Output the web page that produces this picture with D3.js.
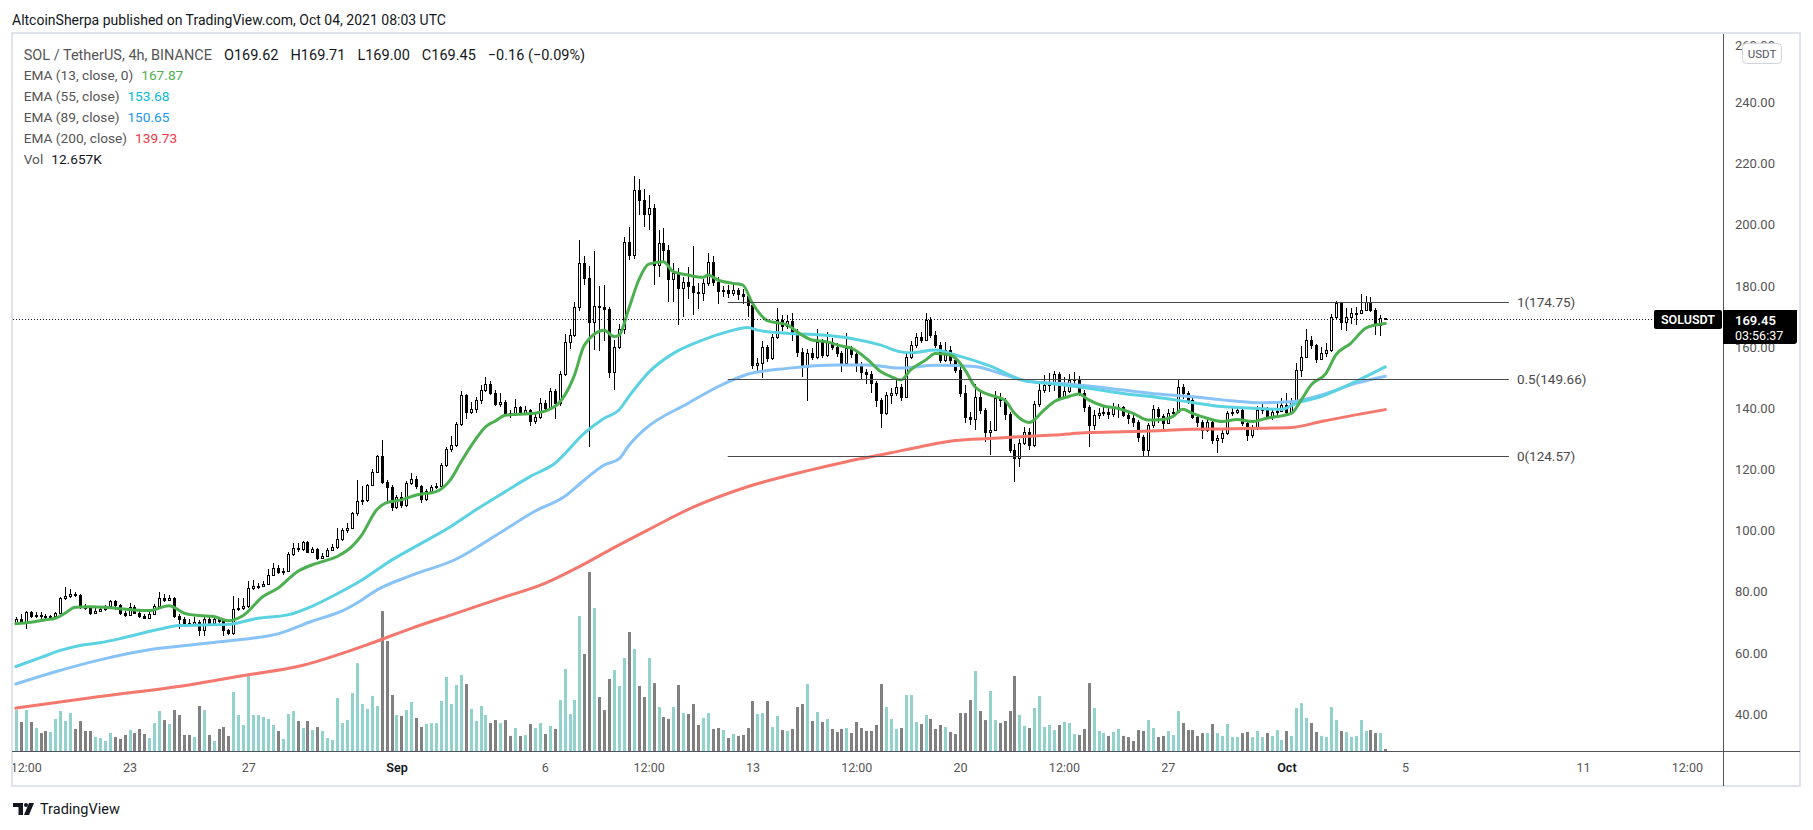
<!DOCTYPE html>
<html><head><meta charset="utf-8">
<script src="https://cdn.jsdelivr.net/npm/d3@7"></script>
<style>
body{margin:0;background:#fff;overflow:hidden;}
svg text{font-family:Roboto,"Noto Sans",sans-serif;}
</style></head><body>
<svg id="chart" width="1813" height="830"></svg>
<script>
// ---------- DATA (SOL/USDT 4h, Binance, from Aug 19 2021 04:00 UTC) ----------
const firstBar = "2021-08-19T04:00:00Z";
const opens = [69.7,71.2,70.0,73.4,72.1,72.6,72.3,71.9,72.3,73.2,
78.0,78.7,79.5,79.0,75.6,74.7,73.2,74.0,74.6,75.4,
77.0,75.8,73.2,72.6,75.2,73.3,72.2,71.7,73.0,75.6,
78.2,77.6,78.1,72.3,71.3,70.1,69.6,70.4,67.5,71.4,
70.1,71.3,70.5,67.5,66.6,74.5,74.9,75.4,81.3,81.9,
82.2,82.6,85.7,87.9,86.5,87.1,92.5,94.6,94.0,96.3,
93.3,94.0,91.2,92.0,93.9,94.8,97.3,100.2,101.0,105.8,
109.7,110.2,115.1,119.4,124.6,116.2,114.3,108.0,111.0,108.5,
115.8,116.9,114.7,110.4,113.2,114.3,114.7,121.6,126.7,128.2,
135.0,144.5,139.1,139.9,142.8,146.1,148.1,145.3,141.6,142.3,
138.5,138.2,140.5,138.7,139.5,136.0,137.4,141.8,140.3,145.9,
141.8,151.4,161.9,164.1,173.4,187.5,182.6,168.5,173.6,173.2,
172.5,152.1,160.3,166.0,194.6,190.3,211.5,208.3,203.6,205.5,
187.0,194.1,192.0,182.3,184.3,179.4,181.5,180.0,178.3,177.8,
181.0,188.1,181.5,178.6,178.9,177.8,178.8,177.4,177.0,173.9,
154.3,155.0,160.1,156.5,163.5,169.0,167.2,168.8,165.0,158.6,
153.8,158.3,157.0,161.9,157.6,161.9,160.3,158.3,155.1,159.7,
157.9,154.3,152.1,151.3,148.3,142.8,138.5,144.5,145.0,147.2,
144.0,157.0,160.8,163.3,162.5,169.0,164.1,160.9,155.9,159.2,
156.0,152.7,145.0,137.4,136.8,143.9,139.5,132.5,133.0,143.4,
142.9,138.2,126.5,123.8,128.9,132.5,128.1,141.6,146.1,147.8,
148.3,151.4,144.0,145.9,149.4,149.8,145.0,140.7,134.7,138.0,
138.5,139.0,138.2,140.1,140.6,138.0,136.9,135.8,130.9,126.5,
134.7,139.8,137.5,135.5,138.7,139.0,147.2,145.0,142.9,137.4,
135.8,133.1,135.8,129.8,130.3,132.0,138.5,139.1,139.6,135.3,
131.4,133.6,139.6,139.9,137.4,139.0,139.3,141.2,139.0,142.3,
152.7,157.0,162.5,160.8,156.2,158.1,159.2,170.1,174.5,168.5,
170.1,171.2,171.4,172.3,175.0,172.3,167.4,169.62];
const highs = [72.0,72.9,73.8,74.0,73.5,73.6,72.8,72.7,73.6,78.6,
81.6,81.0,80.2,79.4,76.3,75.1,74.8,75.3,75.9,77.6,
77.4,76.1,74.0,76.4,75.9,73.9,72.8,73.6,76.2,80.0,
79.3,79.0,78.5,72.8,72.0,71.2,71.8,70.9,72.2,72.4,
72.0,71.8,70.9,67.9,78.8,78.0,78.0,83.6,84.0,83.1,
83.6,87.5,89.5,89.0,87.8,93.3,96.2,96.0,96.6,96.6,
94.8,94.5,92.9,94.6,95.9,101.0,101.0,102.5,106.3,116.6,
114.7,115.5,120.2,125.0,129.8,116.6,115.0,111.8,112.7,116.3,
119.0,118.0,115.2,113.7,115.2,115.6,122.3,127.5,131.0,135.6,
145.9,144.9,142.3,143.8,147.9,150.3,149.2,146.0,145.2,142.8,
139.5,143.2,141.0,140.8,139.9,138.9,143.6,142.9,146.8,146.6,
152.3,164.4,166.0,174.8,195.2,190.0,186.8,191.6,180.0,180.5,
173.4,162.5,167.6,196.0,199.5,216.2,215.0,212.0,210.0,207.0,
198.6,199.0,193.5,187.6,186.0,183.0,186.5,193.2,181.2,182.3,
191.0,190.0,183.2,180.1,180.5,180.9,179.6,179.0,178.2,174.8,
156.6,162.2,161.0,164.3,173.0,170.5,170.8,171.2,166.0,159.8,
159.5,160.0,166.2,162.8,165.0,163.0,161.5,159.0,164.7,160.6,
158.9,155.2,153.0,152.4,149.0,143.6,145.6,146.8,149.4,148.0,
157.8,162.0,164.8,165.2,171.2,170.0,165.5,161.8,161.9,160.4,
156.8,153.5,147.8,138.9,148.2,145.5,140.2,136.0,145.8,145.0,
143.6,139.0,128.6,130.0,134.0,133.8,142.6,148.8,151.0,151.6,
152.3,152.0,150.5,151.5,152.0,150.8,146.0,141.2,139.5,140.1,
141.2,140.5,142.0,141.6,141.0,139.2,137.8,136.2,131.5,135.5,
141.3,140.5,138.2,140.0,140.2,149.6,148.2,145.8,143.5,138.0,
136.3,137.0,136.4,131.5,133.6,139.3,140.6,140.8,140.0,136.0,
134.8,140.8,141.6,140.5,140.2,142.0,143.6,145.0,143.6,155.0,
160.6,166.0,163.8,161.2,160.2,161.6,171.0,175.2,175.0,173.0,
172.8,173.2,177.5,177.0,176.4,172.8,170.6,169.71];
const lows = [69.3,69.5,68.0,71.6,71.5,70.9,71.3,71.2,71.9,72.8,
77.5,78.2,78.3,74.6,74.1,72.6,72.8,73.4,73.9,75.0,
74.3,72.6,72.0,72.3,72.8,71.6,71.2,71.3,72.7,75.3,
76.9,77.0,71.6,68.0,69.4,69.0,69.2,65.6,65.8,69.6,
69.7,69.9,65.8,65.9,66.0,73.8,74.3,75.0,80.6,81.2,
81.7,82.3,85.3,85.9,85.5,86.9,92.0,93.2,93.6,92.7,
92.8,90.4,90.8,91.6,93.5,94.3,96.8,99.5,100.6,104.8,
108.6,109.6,114.6,118.9,115.4,108.9,106.5,107.1,107.6,108.0,
115.0,113.9,109.3,109.8,112.5,113.8,114.2,121.1,126.0,127.4,
134.4,136.7,138.2,138.6,141.7,145.5,144.4,140.9,140.5,137.8,
137.0,137.6,137.9,137.8,134.5,135.1,136.8,139.4,139.7,136.6,
141.0,150.7,159.5,163.3,171.8,180.3,127.6,159.2,159.0,162.0,
150.0,146.0,159.6,164.6,188.5,188.8,203.5,199.5,198.5,180.5,
183.0,188.2,175.0,175.0,167.5,170.0,175.8,170.6,172.5,175.3,
180.2,180.0,174.4,176.6,176.3,176.8,175.7,174.2,170.0,153.0,
151.6,150.0,155.2,156.0,162.8,165.5,166.0,162.0,157.0,150.5,
142.4,155.8,156.3,156.5,156.8,159.1,157.0,152.0,154.5,156.5,
152.0,149.6,148.0,145.0,140.5,133.6,137.8,141.5,144.2,142.5,
143.5,156.4,160.0,161.4,162.0,163.2,159.8,155.0,155.2,154.5,
151.8,144.0,135.2,134.6,133.0,138.4,129.0,124.8,132.6,140.6,
136.3,125.4,116.0,121.0,128.0,126.6,127.5,140.5,145.0,145.5,
145.8,143.2,143.8,145.3,147.5,144.2,139.0,127.5,133.2,136.6,
137.6,136.8,137.4,136.9,137.2,135.0,134.0,129.0,124.5,124.2,
133.8,135.2,133.0,135.0,137.4,138.5,143.2,141.6,136.5,134.0,
130.2,132.4,128.6,125.5,128.7,131.4,137.6,138.2,134.5,129.4,
130.4,133.1,138.4,136.8,136.4,138.1,138.8,138.0,138.6,141.7,
150.3,156.6,159.5,155.0,155.8,157.0,158.4,169.0,165.6,165.5,
167.6,167.4,171.0,171.8,171.5,164.0,163.8,169.00];
const closes = [71.2,70.0,73.4,72.1,72.6,72.3,71.9,72.3,73.2,78.0,
78.7,79.5,79.0,75.6,74.7,73.2,74.0,74.6,75.4,77.0,
75.8,73.2,72.6,75.2,73.3,72.2,71.7,73.0,75.6,78.2,
77.6,78.1,72.3,71.3,70.1,69.6,70.4,67.5,71.4,70.1,
71.3,70.5,67.5,66.6,74.5,74.9,75.4,81.3,81.9,82.2,
82.6,85.7,87.9,86.5,87.1,92.5,94.6,94.0,96.3,93.3,
94.0,91.2,92.0,93.9,94.8,97.3,100.2,101.0,105.8,109.7,
110.2,115.1,119.4,124.6,116.2,114.3,108.0,111.0,108.5,115.8,
116.9,114.7,110.4,113.2,114.3,114.7,121.6,126.7,128.2,135.0,
144.5,139.1,139.9,142.8,146.1,148.1,145.3,141.6,142.3,138.5,
138.2,140.5,138.7,139.5,136.0,137.4,141.8,140.3,145.9,141.8,
151.4,161.9,164.1,173.4,187.5,182.6,168.5,173.6,173.2,172.5,
152.1,160.3,166.0,194.6,190.3,211.5,208.3,203.6,205.5,187.0,
194.1,192.0,182.3,184.3,179.4,181.5,180.0,178.3,177.8,181.0,
188.1,181.5,178.6,178.9,177.8,178.8,177.4,177.0,173.9,154.3,
155.0,160.1,156.5,163.5,169.0,167.2,168.8,165.0,158.6,153.8,
158.3,157.0,161.9,157.6,161.9,160.3,158.3,155.1,159.7,157.9,
154.3,152.1,151.3,148.3,142.8,138.5,144.5,145.0,147.2,144.0,
157.0,160.8,163.3,162.5,169.0,164.1,160.9,155.9,159.2,156.0,
152.7,145.0,137.4,136.8,143.9,139.5,132.5,133.0,143.4,142.9,
138.2,126.5,123.8,128.9,132.5,128.1,141.6,146.1,147.8,148.3,
151.4,144.0,145.9,149.4,149.8,145.0,140.7,134.7,138.0,138.5,
139.0,138.2,140.1,140.6,138.0,136.9,135.8,130.9,126.5,134.7,
139.8,137.5,135.5,138.7,139.0,147.2,145.0,142.9,137.4,135.8,
133.1,135.8,129.8,130.3,132.0,138.5,139.1,139.6,135.3,131.4,
133.6,139.6,139.9,137.4,139.0,139.3,141.2,139.0,142.3,152.7,
157.0,162.5,160.8,156.2,158.1,159.2,170.1,174.5,168.5,170.1,
171.2,171.4,172.3,175.0,172.3,167.4,169.62,169.45];
const volumesK = [258,183,258,183,145,113,126,120,202,252,
189,239,139,189,126,126,88,82,63,113,
88,76,101,132,113,139,107,82,176,252,
195,170,258,227,101,101,88,284,258,101,
63,139,151,95,372,227,164,485,227,227,
214,202,164,126,76,233,252,189,145,189,
132,151,126,82,69,334,176,195,365,554,
296,265,347,284,882,693,353,227,221,258,
309,208,151,170,176,176,315,466,296,416,
479,422,265,189,284,227,176,195,176,195,
95,145,95,101,170,145,176,107,158,139,
321,517,233,321,851,611,1128,901,340,258,
454,510,410,586,750,643,410,340,586,428,
277,214,202,277,416,239,233,296,164,208,
239,139,145,132,82,107,95,101,145,315,
233,239,315,151,221,132,126,139,277,296,
422,189,246,183,202,139,120,139,145,113,
183,145,126,126,164,422,277,202,139,145,
353,353,183,170,227,202,139,164,151,120,
107,239,239,321,504,252,195,378,195,176,
189,252,473,227,158,145,271,347,151,164,
132,164,183,176,107,101,139,428,271,126,
113,95,120,139,95,88,63,132,126,195,
145,88,95,126,101,252,176,132,132,95,
113,113,170,113,95,170,88,88,113,120,
88,126,88,113,95,132,69,126,95,271,
302,208,176,120,95,88,277,195,126,120,
88,95,195,126,132,113,113,12.657];

// EMA readings: [bar number, value]
const ema13 = [[0,69.7],[3,70.2],[6,71.0],[8,71.5],[10,73.2],[12,75.1],[15,75.3],[18,75.1],[22,74.5],[24,74.2],[27,74.0],[31,75.6],[34,73.2],[37,72.4],[40,72.1],[42,71.0],[43,70.7],[46,72.4],[50,78.6],[53,81.3],[57,86.8],[60,89.0],[62,90.0],[65,91.7],[68,95.0],[70,98.8],[73,107.0],[75,109.3],[78,110.2],[81,111.8],[85,112.9],[88,117.0],[90,122.5],[93,130.0],[95,134.1],[97,136.0],[99,137.9],[105,138.5],[109,140.7],[113,151.0],[115,160.8],[119,165.7],[121,163.6],[122,164.0],[124,172.8],[126,182.1],[128,187.3],[131,188.1],[133,184.8],[136,183.7],[139,183.0],[140,183.7],[142,182.1],[145,181.0],[147,180.5],[149,174.5],[152,168.8],[156,167.4],[159,164.1],[161,162.5],[164,161.9],[167,160.5],[169,159.8],[172,156.5],[175,152.1],[177,150.5],[179,149.4],[181,152.7],[184,155.9],[186,158.1],[189,157.6],[192,152.7],[194,147.2],[197,144.5],[200,142.9],[202,138.5],[205,135.5],[208,139.6],[210,142.3],[213,144.0],[215,144.8],[217,142.9],[220,140.9],[223,140.1],[226,138.5],[229,136.3],[232,136.5],[234,137.4],[236,139.8],[238,138.5],[241,136.9],[244,135.8],[247,136.5],[250,135.8],[253,136.9],[258,138.5],[260,142.9],[262,147.8],[265,151.6],[267,157.6],[270,161.4],[273,166.3],[275,167.4],[277,167.87]];
const ema55 = [[0,55.7],[5,58.6],[9,61.0],[13,62.6],[17,63.5],[22,65.2],[29,67.9],[33,69.1],[38,69.3],[43,69.5],[49,71.5],[55,72.6],[60,75.5],[65,79.5],[70,84.0],[76,90.5],[82,96.0],[88,101.5],[93,106.9],[99,112.9],[104,117.8],[109,122.1],[115,132.0],[119,136.9],[122,139.6],[124,144.0],[128,151.9],[133,158.1],[139,162.5],[144,165.2],[148,166.6],[150,165.7],[156,164.7],[163,164.1],[169,163.0],[175,160.8],[179,158.6],[181,158.3],[186,159.2],[190,157.6],[197,154.0],[204,149.2],[210,148.1],[217,146.7],[224,145.0],[231,143.7],[237,142.3],[244,140.7],[251,140.1],[256,139.8],[259,141.8],[264,144.0],[271,148.9],[277,153.68]];
const ema89 = [[0,50.0],[8,54.0],[17,57.9],[27,61.2],[31,62.0],[39,63.4],[46,64.6],[53,66.4],[60,70.6],[66,73.9],[70,77.5],[73,80.7],[80,85.5],[89,90.8],[97,98.5],[105,106.5],[111,111.3],[115,116.7],[119,121.6],[122,123.6],[124,128.0],[127,133.0],[136,141.8],[142,147.2],[148,151.3],[156,153.2],[166,154.3],[172,154.3],[179,153.3],[186,154.2],[194,153.8],[199,151.6],[205,148.9],[211,148.3],[217,147.4],[224,146.1],[231,144.8],[238,143.9],[244,142.9],[251,142.0],[258,142.3],[264,144.5],[271,148.3],[277,150.65]];
const ema200 = [[0,42.1],[17,45.9],[35,49.7],[47,53.0],[57,55.7],[71,62.8],[80,68.2],[89,73.1],[98,78.0],[107,82.9],[114,88.4],[121,94.6],[128,100.5],[137,107.8],[148,114.5],[160,119.7],[168,122.7],[177,125.6],[183,127.6],[190,129.6],[197,130.3],[204,130.9],[210,131.4],[217,132.2],[224,132.5],[231,132.8],[238,133.3],[244,133.4],[251,133.6],[258,133.9],[264,135.8],[271,138.0],[277,139.73]];

const priceTicks = [260,240,220,200,180,160,140,120,100,80,60,40];
const timeTickDates = ["2021-08-19T12:00Z","2021-08-23T00:00Z","2021-08-27T00:00Z","2021-09-01T00:00Z","2021-09-06T00:00Z","2021-09-09T12:00Z","2021-09-13T00:00Z","2021-09-16T12:00Z","2021-09-20T00:00Z","2021-09-23T12:00Z","2021-09-27T00:00Z","2021-10-01T00:00Z","2021-10-05T00:00Z","2021-10-11T00:00Z","2021-10-14T12:00Z"];
const timeTickLabels = ["12:00","23","27","Sep","6","12:00","13","12:00","20","12:00","27","Oct","5","11","12:00"];
const monthLabels = ["Sep","Oct"];

const fibLabels = ["1(174.75)","0.5(149.66)","0(124.57)"];
const fibPrices = [174.75,149.66,124.57];
const fibFrom = "2021-09-12T04:00Z", fibTo = "2021-10-08T12:00Z";

const lastPrice = 169.45, countdown = "03:56:37", symbol = "SOLUSDT";
const header = "AltcoinSherpa published on TradingView.com, Oct 04, 2021 08:03 UTC";
const legendTitle = "SOL / TetherUS, 4h, BINANCE";
const legendOHLC = ["O169.62","H169.71","L169.00","C169.45","\u22120.16 (\u22120.09%)"];
const emaLabels = ["EMA (13, close, 0)","EMA (55, close)","EMA (89, close)","EMA (200, close)"];
const emaValues = ["167.87","153.68","150.65","139.73"];
const volLabel = "Vol", volValue = "12.657K";

// ---------- RENDER ----------
const svg = d3.select("#chart");
const P = {left:12, right:1723, top:34, bottom:751, outerRight:1800, outerBottom:786};
const barMs = 4*3600*1000;
const t0 = new Date(firstBar).getTime();
const n = closes.length;
const dateOf = i => new Date(t0 + i*barMs);

const x = d3.scaleTime().domain([dateOf(0), dateOf(n-1)]).range([15.8, 1385.3]);
const y = d3.scaleLinear().domain([40,240]).range([714.6,102.9]);
const yv = d3.scaleLinear().domain([0, d3.max(volumesK)]).range([P.bottom, P.bottom-179]);

const bars = d3.range(n).map(i => ({d:dateOf(i), o:opens[i], h:highs[i], l:lows[i], c:closes[i], v:volumesK[i]}));

svg.append("rect").attr("width",1813).attr("height",830).attr("fill","#fff");
svg.append("rect").attr("x",P.left).attr("y",P.top-1).attr("width",P.outerRight-P.left).attr("height",P.outerBottom-P.top+1)
  .attr("fill","#fff").attr("stroke","#e0e3eb").attr("stroke-width",2);

const defs = svg.append("defs");
defs.append("clipPath").attr("id","plotclip").append("rect")
  .attr("x",P.left+1).attr("y",P.top).attr("width",P.right-P.left-1).attr("height",P.bottom-P.top);
defs.append("clipPath").attr("id","timeclip").append("rect")
  .attr("x",P.left+1).attr("y",P.bottom).attr("width",P.right-P.left-1).attr("height",P.outerBottom-P.bottom);

const plot = svg.append("g").attr("clip-path","url(#plotclip)");

// volume
plot.append("g").selectAll("rect").data(bars).join("rect")
  .attr("x", b => Math.round(x(b.d)) - 1)
  .attr("y", b => yv(b.v))
  .attr("width", 3)
  .attr("height", b => P.bottom - yv(b.v))
  .attr("fill", b => b.c >= b.o ? "#92d2cc" : "#808080");

// candles
const cg = plot.append("g");
cg.selectAll("line").data(bars).join("line")
  .attr("x1", b => Math.round(x(b.d)) + 0.5).attr("x2", b => Math.round(x(b.d)) + 0.5)
  .attr("y1", b => Math.round(y(b.h))).attr("y2", b => Math.round(y(b.l)))
  .attr("stroke","#000").attr("stroke-width",1);
cg.selectAll("rect").data(bars).join("rect")
  .each(function(b){
    const rc = Math.round(x(b.d));
    const top = Math.round(y(Math.max(b.o,b.c)));
    const bot = Math.round(y(Math.min(b.o,b.c)));
    const sel = d3.select(this);
    if (b.c >= b.o) {
      sel.attr("x", rc-0.5).attr("y", top+0.5).attr("width",2).attr("height", Math.max(1, bot-top))
        .attr("fill","#fff").attr("stroke","#000").attr("stroke-width",1);
    } else {
      sel.attr("x", rc-1).attr("y", top).attr("width",3).attr("height", Math.max(1, bot-top+1))
        .attr("fill","#000");
    }
  });

// EMAs
const emaLine = d3.line().x(p => x(dateOf(p[0]))).y(p => y(p[1])).curve(d3.curveMonotoneX);
const emaSeries = [
  {data:ema200, color:"#f5786e", w:3},
  {data:ema89, color:"#88c3f8", w:3},
  {data:ema55, color:"#5bd2e2", w:3},
  {data:ema13, color:"#4caf50", w:3}
];
plot.append("g").selectAll("path").data(emaSeries).join("path")
  .attr("d", s => emaLine(s.data)).attr("fill","none")
  .attr("stroke", s => s.color).attr("stroke-width", s => s.w)
  .attr("stroke-linejoin","round").attr("stroke-linecap","round");

// fib lines
const fg = svg.append("g");
fibPrices.forEach((p,k) => {
  const yy = Math.round(y(p)) + 0.5;
  fg.append("line").attr("x1", x(new Date(fibFrom))).attr("x2", x(new Date(fibTo)))
    .attr("y1", yy).attr("y2", yy).attr("stroke","#4a4a4a").attr("stroke-width",1);
  fg.append("text").attr("x", x(new Date(fibTo)) + 8).attr("y", yy).attr("dy","0.35em")
    .attr("font-size",13.5).attr("fill","#4a4a4a").text(fibLabels[k]);
});

// last price dotted line
const py = Math.round(y(lastPrice)) + 0.5;
svg.append("line").attr("x1",P.left+1).attr("x2",1654).attr("y1",py).attr("y2",py)
  .attr("stroke","#131722").attr("stroke-width",1).attr("stroke-dasharray","1,2");

// axes lines
svg.append("line").attr("x1",P.left).attr("x2",P.outerRight).attr("y1",P.bottom+0.5).attr("y2",P.bottom+0.5)
  .attr("stroke","#50535e").attr("stroke-width",1);
svg.append("line").attr("x1",P.right+0.5).attr("x2",P.right+0.5).attr("y1",P.top).attr("y2",P.outerBottom)
  .attr("stroke","#50535e").attr("stroke-width",1);

// price axis
const yAxis = d3.axisRight(y).tickValues(priceTicks).tickFormat(d3.format(".2f")).tickSize(0).tickPadding(12);
const ya = svg.append("g").attr("transform",`translate(${P.right},0)`).call(yAxis);
ya.select(".domain").remove();
ya.selectAll(".tick").attr("transform", d => `translate(0,${Math.max(y(d), P.top + 12)})`);
ya.selectAll("text").attr("font-size",13).attr("fill","#555").attr("font-family","Roboto");

// time axis
const xAxis = d3.axisBottom(x).tickValues(timeTickDates.map(s => new Date(s)))
  .tickFormat((d,i) => timeTickLabels[i]).tickSize(0).tickPadding(0);
const xa = svg.append("g").attr("clip-path","url(#timeclip)").append("g")
  .attr("transform",`translate(0,${P.bottom})`).call(xAxis);
xa.select(".domain").remove();
xa.selectAll("text").attr("y",17).attr("dy","0.35em").attr("font-size",12.5).attr("font-family","Roboto")
  .attr("fill", (d,i) => monthLabels.includes(timeTickLabels[i]) ? "#131722" : "#555")
  .attr("font-weight", (d,i) => monthLabels.includes(timeTickLabels[i]) ? 600 : 400);

// USDT badge
svg.append("rect").attr("x",1742.5).attr("y",43.5).attr("width",39).attr("height",20).attr("rx",4)
  .attr("fill","#fff").attr("stroke","#d1d4dc");
svg.append("text").attr("x",1762).attr("y",53.5).attr("dy","0.35em").attr("text-anchor","middle")
  .attr("font-size",11.5).attr("fill","#50535e").text("USDT");

// last price labels
svg.append("rect").attr("x",1654).attr("y",310).attr("width",68).attr("height",19).attr("rx",2).attr("fill","#000");
svg.append("text").attr("x",1688).attr("y",319.5).attr("dy","0.35em").attr("text-anchor","middle")
  .attr("font-size",12.5).attr("font-weight",600).attr("fill","#fff").text(symbol);
svg.append("path").attr("d","M1723,310 H1797 V341 Q1797,344 1794,344 H1723 Z").attr("fill","#000");
svg.append("text").attr("x",1735).attr("y",320).attr("dy","0.35em").attr("font-size",13).attr("font-weight",600)
  .attr("fill","#fff").text(d3.format(".2f")(lastPrice));
svg.append("text").attr("x",1735).attr("y",336).attr("dy","0.35em").attr("font-size",12.5)
  .attr("fill","#fff").text(countdown);

// header
svg.append("text").attr("x",12).attr("y",20).attr("dy","0.35em").attr("font-size",14)
  .attr("fill","#131722").text(header);

// legend
const L = svg.append("g");
const row1 = L.append("text").attr("x",23.7).attr("y",55).attr("dy","0.35em").attr("font-size",14.5);
row1.append("tspan").attr("fill","#555").text(legendTitle);
legendOHLC.forEach((t,k) => row1.append("tspan").attr("dx", 12).attr("fill","#131722").text(t));
const emaColors = ["#4caf50","#00bcd4","#2196f3","#f23645"];
emaLabels.forEach((t,k) => {
  const r = L.append("text").attr("x",23.7).attr("y",75.5 + k*21).attr("dy","0.35em").attr("font-size",13.7);
  r.append("tspan").attr("fill","#555").text(t);
  r.append("tspan").attr("dx",8).attr("fill",emaColors[k]).text(emaValues[k]);
});
const rv = L.append("text").attr("x",23.7).attr("y",159).attr("dy","0.35em").attr("font-size",13.7);
rv.append("tspan").attr("fill","#555").text(volLabel);
rv.append("tspan").attr("dx",8).attr("fill","#131722").text(volValue);

// footer logo
const logo = svg.append("g").attr("fill","#131722").attr("transform","translate(0,4)");
logo.append("path").attr("d","M13,799 H23 V811 H18.5 V803 H13 Z");
logo.append("circle").attr("cx",26).attr("cy",801).attr("r",2);
logo.append("path").attr("d","M29,799 H34 L29,811 H24 Z");
svg.append("text").attr("x",40).attr("y",809).attr("dy","0.35em").attr("font-size",14.5)
  .attr("fill","#131722").text("TradingView");
</script>
</body></html>
